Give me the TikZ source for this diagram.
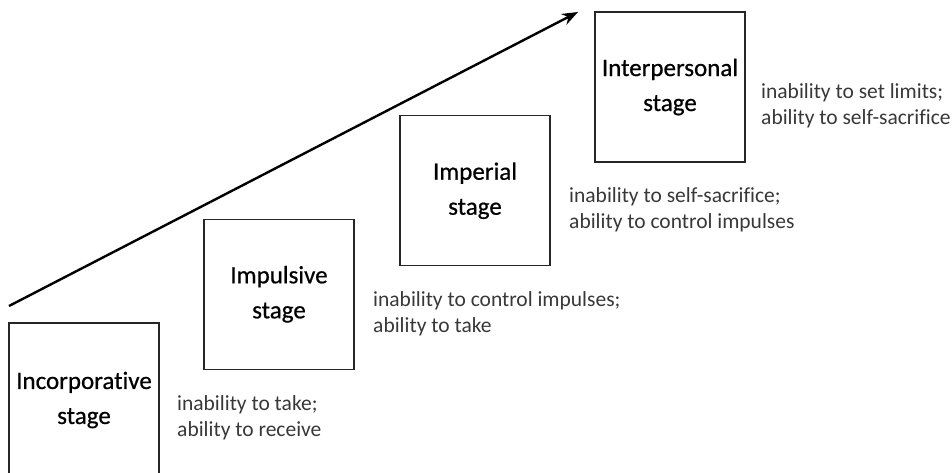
\documentclass[tikz,border=0pt]{standalone}
\usepackage{fontspec}
\setmainfont{Carlito}[Ligatures={NoCommon}]
\newfontfamily\labelfont{Carlito}[Ligatures={NoCommon}, FakeBold=0.6]
\usetikzlibrary{arrows.meta}
\tikzset{
  stagebox/.style={draw=black!85, line width=1.1pt, minimum width=150pt, minimum height=150pt,
    inner sep=0pt, align=center, font=\labelfont\fontsize{25}{35}\selectfont},
  traits/.style={anchor=west, inner sep=0pt, align=left, text=black!78,
    font=\fontsize{21.5}{26}\selectfont},
  growth/.style={line width=2.4pt, -{Stealth[length=16pt,width=12pt]}}
}
\begin{document}
\begin{tikzpicture}[x=1pt,y=-1pt]
  \useasboundingbox (0,0) rectangle (952,473);
  % the four stages, stepping up to the right; the lowest one runs off the bottom edge
  \node[stagebox, minimum height=154pt] (incorp) at (84,400) {Incorporative\\stage};
  \node[stagebox] (impuls) at (279,294.3) {Impulsive\\stage};
  \node[stagebox] (imper)  at (475,190.7) {Imperial\\stage};
  \node[stagebox] (inter)  at (670,87) {Interpersonal\\stage};
  % what each stage can and cannot do
  \node[traits] (t1) at (177,417.5) {inability to take;\\ability to receive};
  \node[traits] (t2) at (373,313.5) {inability to control impulses;\\ability to take};
  \node[traits] (t3) at (569,210) {inability to self-sacrifice;\\ability to control impulses};
  \node[traits] (t4) at (761,105.5) {inability to set limits;\\ability to self-sacrifice};
  % direction of development
  \coordinate (start) at (9,306);
  \coordinate (tip) at (578,12);
  \draw[growth] (start) -- (tip);
\end{tikzpicture}
\end{document}
